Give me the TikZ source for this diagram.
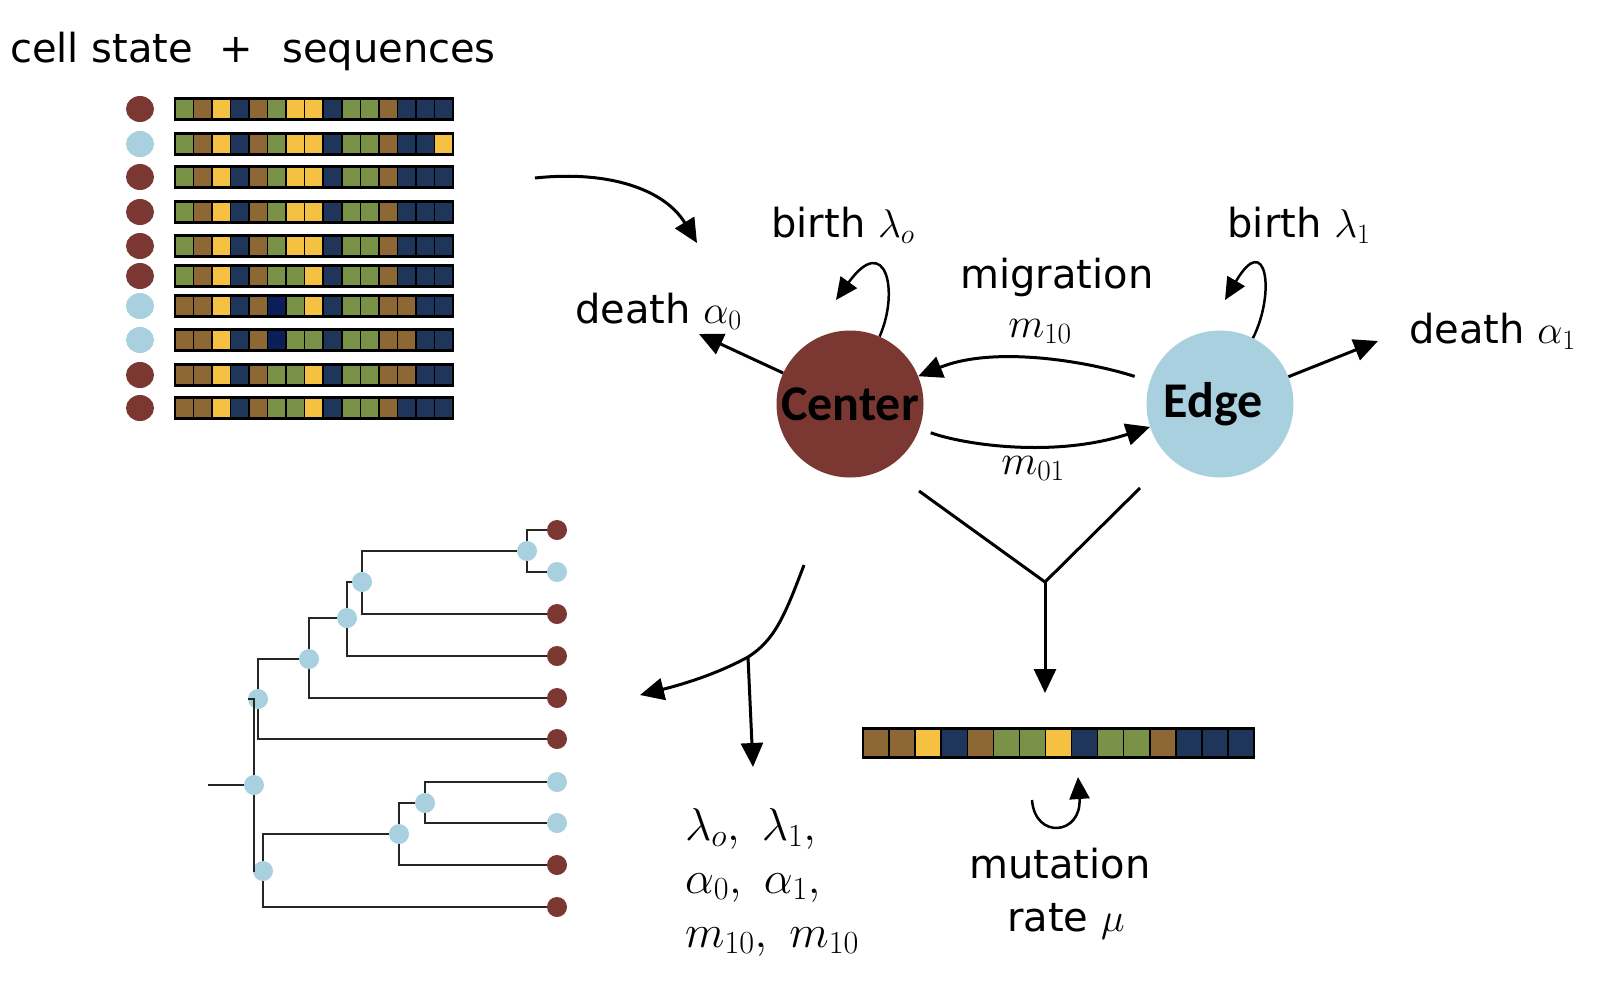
\documentclass[tikz,border=0pt]{standalone}
\usepackage{fix-cm}
\usepackage{fontspec}
\setmainfont{DejaVu Sans}
\newfontfamily\boldfont{Carlito}
\usepackage{tikz}
\usetikzlibrary{positioning}
\usetikzlibrary{arrows.meta}
\usetikzlibrary{shapes.geometric}

\definecolor{cellred}{RGB}{123,56,51}
\definecolor{cellblue}{RGB}{168,208,222}
\definecolor{sgreen}{RGB}{122,145,72}
\definecolor{sbrown}{RGB}{142,104,52}
\definecolor{syellow}{RGB}{245,193,66}
\definecolor{snavy}{RGB}{31,53,89}
\definecolor{sdeep}{RGB}{10,30,90}

% one sequence: name, cell style, left x, y, cell step, colours
\newcommand{\seqrow}[6]{%
  \foreach \col [count=\i] in {#6}
    \node[#2, fill=\col] (#1-\i) at ({#3+(\i-0.5)*#5}, #4) {};
  \draw[line width=2.5pt] (#1-1.north west) rectangle (#1-15.south east);
}

\begin{document}
\begin{tikzpicture}[
        x=1pt, y=-1pt,
        txt/.style={font=\fontsize{40}{46}\selectfont, inner sep=0pt, anchor=base},
        mathtxt/.style={font=\fontsize{46}{52}\selectfont, inner sep=0pt, anchor=base west},
        popnode/.style={
            circle,
            minimum size=147pt,
            inner sep=0pt,
            font=\boldfont\bfseries\fontsize{50}{54}\selectfont
        },
        celldot/.style={ellipse, minimum width=28pt, minimum height=26pt, inner sep=0pt},
        treedot/.style={circle, minimum size=20pt, inner sep=0pt},
        seqcell/.style={draw=black, line width=1.5pt, minimum width=18.53pt,
            minimum height=21pt, inner sep=0pt, outer sep=0pt},
        bigcell/.style={seqcell, minimum width=26pt, minimum height=29pt},
        arrow/.style={-{Triangle[length=24pt, width=22pt]}, line width=3pt},
        loop/.style={-{Triangle[length=22pt, width=20pt]}, line width=2.5pt},
        branch/.style={line width=2.5pt, draw=black!85}
    ]

    \path[use as bounding box, fill=white] (0,0) rectangle (1604,994);

    % input data
    \node[txt, anchor=base west] (title) at (10,62) {cell state};
    \node[txt] (plus) at (236,62) {+};
    \node[txt, anchor=base west] (seqtitle) at (282,62) {sequences};

    \foreach \y/\c [count=\k] in {109/cellred, 144/cellblue, 177/cellred, 212/cellred,
            246/cellred, 276/cellred, 306/cellblue, 340/cellblue, 375/cellred, 408/cellred}
        \node[celldot, fill=\c] (c\k) at (140,\y) {};

    \seqrow{r1}{seqcell}{175}{109}{18.53}{sgreen,sbrown,syellow,snavy,sbrown,sgreen,syellow,syellow,snavy,sgreen,sgreen,sbrown,snavy,snavy,snavy}
    \seqrow{r2}{seqcell}{175}{144}{18.53}{sgreen,sbrown,syellow,snavy,sbrown,sgreen,syellow,syellow,snavy,sgreen,sgreen,sbrown,snavy,snavy,syellow}
    \seqrow{r3}{seqcell}{175}{177}{18.53}{sgreen,sbrown,syellow,snavy,sbrown,sgreen,syellow,syellow,snavy,sgreen,sgreen,sbrown,snavy,snavy,snavy}
    \seqrow{r4}{seqcell}{175}{212}{18.53}{sgreen,sbrown,syellow,snavy,sbrown,sgreen,syellow,syellow,snavy,sgreen,sgreen,sbrown,snavy,snavy,snavy}
    \seqrow{r5}{seqcell}{175}{246}{18.53}{sgreen,sbrown,syellow,snavy,sbrown,sgreen,syellow,syellow,snavy,sgreen,sgreen,sbrown,snavy,snavy,snavy}
    \seqrow{r6}{seqcell}{175}{276}{18.53}{sgreen,sbrown,syellow,snavy,sbrown,sgreen,sgreen,syellow,snavy,sgreen,sgreen,sbrown,snavy,snavy,snavy}
    \seqrow{r7}{seqcell}{175}{306}{18.53}{sbrown,sbrown,syellow,snavy,sbrown,sdeep,sgreen,syellow,snavy,sgreen,sgreen,sbrown,sbrown,snavy,snavy}
    \seqrow{r8}{seqcell}{175}{340}{18.53}{sbrown,sbrown,syellow,snavy,sbrown,sdeep,sgreen,sgreen,snavy,sgreen,sgreen,sbrown,sbrown,snavy,snavy}
    \seqrow{r9}{seqcell}{175}{375}{18.53}{sbrown,sbrown,syellow,snavy,sbrown,sgreen,sgreen,syellow,snavy,sgreen,sgreen,sbrown,sbrown,snavy,snavy}
    \seqrow{r10}{seqcell}{175}{408}{18.53}{sbrown,sbrown,syellow,snavy,sbrown,sgreen,sgreen,syellow,snavy,sgreen,sgreen,sbrown,snavy,snavy,snavy}

    % model
    \node[popnode, fill=cellred] (center) at (850,404) {Center};
    \node[popnode, fill=cellblue] (edge) at (1220,404) {Edge\kern14pt};

    \node[txt] (birth0) at (843,237) {birth $\lambda_o$};
    \node[txt] (birth1) at (1299,237) {birth $\lambda_1$};
    \node[txt] (migr) at (1057,288) {migration};
    \node[txt, anchor=base west] (death0) at (575,323) {death $\alpha_0$};
    \node[txt, anchor=base west] (death1) at (1409,343) {death $\alpha_1$};
    \node[mathtxt, anchor=base, font=\fontsize{42}{48}\selectfont] (m10) at (1040,337) {$m_{10}$};
    \node[mathtxt, anchor=base, font=\fontsize{42}{48}\selectfont] (m01) at (1033,474) {$m_{01}$};

    \coordinate (seqout) at (535,178);
    \coordinate (modelin) at (697,243);
    \coordinate (d0tip) at (699,334);
    \coordinate (d1tip) at (1378,341);
    \coordinate (b0tip) at (836,300);
    \coordinate (b1tip) at (1225,300);

    \draw[arrow] (seqout) .. controls (610,170) and (665,190) .. (modelin);
    \draw[arrow] (center) -- (d0tip);
    \draw[arrow] (edge) -- (d1tip);
    \draw[loop] (center) .. controls (900,290) and (885,232) .. (b0tip);
    \draw[loop] (edge) .. controls (1276,292) and (1266,230) .. (b1tip);
    \draw[arrow, shorten <=16pt] (edge) .. controls (1090,362) and (995,345) .. (center);
    \draw[arrow, shorten <=12pt] (center) .. controls (965,445) and (1055,458) .. (edge);

    % mutation
    \coordinate (yl) at (919,491);
    \coordinate (yr) at (1140,488);
    \coordinate (yj) at (1045,582);
    \coordinate (seqin) at (1045,693);
    \draw[line width=3pt] (yl) -- (yj) -- (yr);
    \draw[arrow] (yj) -- (seqin);

    \seqrow{mu}{bigcell}{863}{743}{26.07}{sbrown,sbrown,syellow,snavy,sbrown,sgreen,sgreen,syellow,snavy,sgreen,sgreen,sbrown,snavy,snavy,snavy}

    \coordinate (mu0) at (1032,800);
    \coordinate (mutip) at (1078,777);
    \draw[loop] (mu0) .. controls (1035,840) and (1082,835) .. (mutip);
    \node[txt] (mutlab) at (1060,878) {mutation};
    \node[txt] (ratelab) at (1066,931) {rate $\mu$};

    % inference
    \coordinate (fk0) at (804,565);
    \coordinate (fk) at (748,657);
    \coordinate (treein) at (640,695);
    \coordinate (parin) at (753,767);
    \draw[arrow] (fk0) .. controls (785,615) and (775,640) .. (fk)
        .. controls (715,675) and (680,685) .. (treein);
    \draw[arrow] (fk) -- (parin);

    \node[mathtxt] (par1) at (685,840) {$\lambda_o,\ \lambda_1,$};
    \node[mathtxt] (par2) at (685,893) {$\alpha_0,\ \alpha_1,$};
    \node[mathtxt] (par3) at (685,947) {$m_{10},\ m_{10}$};

    % tree
    \foreach \y/\c [count=\k] in {530/cellred, 572/cellblue, 614/cellred, 656/cellred,
            698/cellred, 739/cellred, 782/cellblue, 823/cellblue, 865/cellred, 907/cellred}
        \node[treedot, fill=\c] (l\k) at (557,\y) {};
    \node[treedot, fill=cellblue] (n1) at (527,551) {};
    \node[treedot, fill=cellblue] (n2) at (362,582) {};
    \node[treedot, fill=cellblue] (n3) at (347,618) {};
    \node[treedot, fill=cellblue] (n4) at (309,659) {};
    \node[treedot, fill=cellblue] (n5) at (258,699) {};
    \node[treedot, fill=cellblue] (root) at (254,785) {};
    \node[treedot, fill=cellblue] (n6) at (263,871) {};
    \node[treedot, fill=cellblue] (n7) at (399,834) {};
    \node[treedot, fill=cellblue] (n8) at (425,803) {};
    \coordinate (stem) at (208,785);

    \draw[branch] (stem) -- (root);
    \draw[branch] (n1) |- (l1);
    \draw[branch] (n1) |- (l2);
    \draw[branch] (n2) |- (n1);
    \draw[branch] (n2) |- (l3);
    \draw[branch] (n3) |- (n2);
    \draw[branch] (n3) |- (l4);
    \draw[branch] (n4) |- (n3);
    \draw[branch] (n4) |- (l5);
    \draw[branch] (n5) |- (n4);
    \draw[branch] (n5) |- (l6);
    \draw[branch] (root) |- (n5);
    \draw[branch] (root) |- (n6);
    \draw[branch] (n6) |- (n7);
    \draw[branch] (n6) |- (l10);
    \draw[branch] (n7) |- (n8);
    \draw[branch] (n7) |- (l9);
    \draw[branch] (n8) |- (l7);
    \draw[branch] (n8) |- (l8);

\end{tikzpicture}
\end{document}
